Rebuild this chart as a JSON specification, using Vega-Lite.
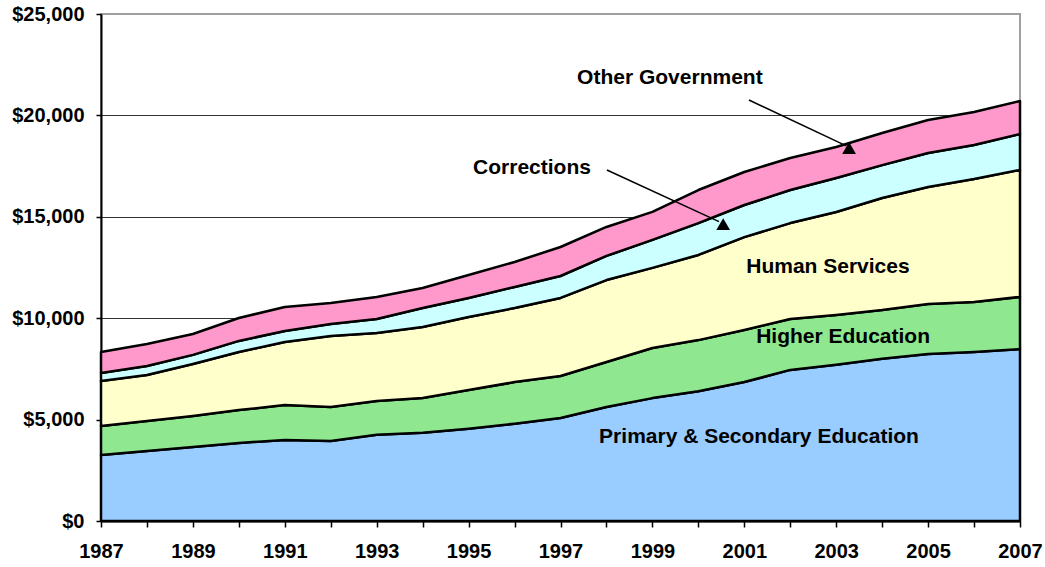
{
  "$schema": "https://vega.github.io/schema/vega-lite/v6.json",
  "width": 919,
  "height": 507,
  "autosize": "none",
  "padding": {"left": 101, "top": 14, "right": 25, "bottom": 46},
  "background": "white",
  "config": {
    "view": {"stroke": "#a0a0a0", "strokeWidth": 2},
    "font": "Liberation Sans"
  },
  "datasets": {
    "spend": [
      {"year": 1987, "series": "Primary & Secondary Education", "ord": 1, "value": 3250},
      {"year": 1988, "series": "Primary & Secondary Education", "ord": 1, "value": 3450},
      {"year": 1989, "series": "Primary & Secondary Education", "ord": 1, "value": 3650},
      {"year": 1990, "series": "Primary & Secondary Education", "ord": 1, "value": 3850},
      {"year": 1991, "series": "Primary & Secondary Education", "ord": 1, "value": 4000},
      {"year": 1992, "series": "Primary & Secondary Education", "ord": 1, "value": 3950},
      {"year": 1993, "series": "Primary & Secondary Education", "ord": 1, "value": 4250},
      {"year": 1994, "series": "Primary & Secondary Education", "ord": 1, "value": 4350},
      {"year": 1995, "series": "Primary & Secondary Education", "ord": 1, "value": 4550},
      {"year": 1996, "series": "Primary & Secondary Education", "ord": 1, "value": 4800},
      {"year": 1997, "series": "Primary & Secondary Education", "ord": 1, "value": 5080},
      {"year": 1998, "series": "Primary & Secondary Education", "ord": 1, "value": 5620},
      {"year": 1999, "series": "Primary & Secondary Education", "ord": 1, "value": 6060},
      {"year": 2000, "series": "Primary & Secondary Education", "ord": 1, "value": 6400},
      {"year": 2001, "series": "Primary & Secondary Education", "ord": 1, "value": 6850},
      {"year": 2002, "series": "Primary & Secondary Education", "ord": 1, "value": 7450},
      {"year": 2003, "series": "Primary & Secondary Education", "ord": 1, "value": 7700},
      {"year": 2004, "series": "Primary & Secondary Education", "ord": 1, "value": 8000},
      {"year": 2005, "series": "Primary & Secondary Education", "ord": 1, "value": 8230},
      {"year": 2006, "series": "Primary & Secondary Education", "ord": 1, "value": 8330},
      {"year": 2007, "series": "Primary & Secondary Education", "ord": 1, "value": 8480},

      {"year": 1987, "series": "Higher Education", "ord": 2, "value": 1430},
      {"year": 1988, "series": "Higher Education", "ord": 2, "value": 1480},
      {"year": 1989, "series": "Higher Education", "ord": 2, "value": 1530},
      {"year": 1990, "series": "Higher Education", "ord": 2, "value": 1620},
      {"year": 1991, "series": "Higher Education", "ord": 2, "value": 1720},
      {"year": 1992, "series": "Higher Education", "ord": 2, "value": 1670},
      {"year": 1993, "series": "Higher Education", "ord": 2, "value": 1670},
      {"year": 1994, "series": "Higher Education", "ord": 2, "value": 1710},
      {"year": 1995, "series": "Higher Education", "ord": 2, "value": 1910},
      {"year": 1996, "series": "Higher Education", "ord": 2, "value": 2050},
      {"year": 1997, "series": "Higher Education", "ord": 2, "value": 2070},
      {"year": 1998, "series": "Higher Education", "ord": 2, "value": 2220},
      {"year": 1999, "series": "Higher Education", "ord": 2, "value": 2470},
      {"year": 2000, "series": "Higher Education", "ord": 2, "value": 2520},
      {"year": 2001, "series": "Higher Education", "ord": 2, "value": 2570},
      {"year": 2002, "series": "Higher Education", "ord": 2, "value": 2510},
      {"year": 2003, "series": "Higher Education", "ord": 2, "value": 2460},
      {"year": 2004, "series": "Higher Education", "ord": 2, "value": 2400},
      {"year": 2005, "series": "Higher Education", "ord": 2, "value": 2470},
      {"year": 2006, "series": "Higher Education", "ord": 2, "value": 2470},
      {"year": 2007, "series": "Higher Education", "ord": 2, "value": 2570},

      {"year": 1987, "series": "Human Services", "ord": 3, "value": 2220},
      {"year": 1988, "series": "Human Services", "ord": 3, "value": 2270},
      {"year": 1989, "series": "Human Services", "ord": 3, "value": 2560},
      {"year": 1990, "series": "Human Services", "ord": 3, "value": 2860},
      {"year": 1991, "series": "Human Services", "ord": 3, "value": 3110},
      {"year": 1992, "series": "Human Services", "ord": 3, "value": 3500},
      {"year": 1993, "series": "Human Services", "ord": 3, "value": 3350},
      {"year": 1994, "series": "Human Services", "ord": 3, "value": 3510},
      {"year": 1995, "series": "Human Services", "ord": 3, "value": 3600},
      {"year": 1996, "series": "Human Services", "ord": 3, "value": 3650},
      {"year": 1997, "series": "Human Services", "ord": 3, "value": 3850},
      {"year": 1998, "series": "Human Services", "ord": 3, "value": 4040},
      {"year": 1999, "series": "Human Services", "ord": 3, "value": 3950},
      {"year": 2000, "series": "Human Services", "ord": 3, "value": 4200},
      {"year": 2001, "series": "Human Services", "ord": 3, "value": 4580},
      {"year": 2002, "series": "Human Services", "ord": 3, "value": 4730},
      {"year": 2003, "series": "Human Services", "ord": 3, "value": 5080},
      {"year": 2004, "series": "Human Services", "ord": 3, "value": 5530},
      {"year": 2005, "series": "Human Services", "ord": 3, "value": 5770},
      {"year": 2006, "series": "Human Services", "ord": 3, "value": 6060},
      {"year": 2007, "series": "Human Services", "ord": 3, "value": 6260},

      {"year": 1987, "series": "Corrections", "ord": 4, "value": 400},
      {"year": 1988, "series": "Corrections", "ord": 4, "value": 440},
      {"year": 1989, "series": "Corrections", "ord": 4, "value": 450},
      {"year": 1990, "series": "Corrections", "ord": 4, "value": 550},
      {"year": 1991, "series": "Corrections", "ord": 4, "value": 540},
      {"year": 1992, "series": "Corrections", "ord": 4, "value": 590},
      {"year": 1993, "series": "Corrections", "ord": 4, "value": 690},
      {"year": 1994, "series": "Corrections", "ord": 4, "value": 930},
      {"year": 1995, "series": "Corrections", "ord": 4, "value": 940},
      {"year": 1996, "series": "Corrections", "ord": 4, "value": 1040},
      {"year": 1997, "series": "Corrections", "ord": 4, "value": 1080},
      {"year": 1998, "series": "Corrections", "ord": 4, "value": 1190},
      {"year": 1999, "series": "Corrections", "ord": 4, "value": 1380},
      {"year": 2000, "series": "Corrections", "ord": 4, "value": 1570},
      {"year": 2001, "series": "Corrections", "ord": 4, "value": 1580},
      {"year": 2002, "series": "Corrections", "ord": 4, "value": 1630},
      {"year": 2003, "series": "Corrections", "ord": 4, "value": 1670},
      {"year": 2004, "series": "Corrections", "ord": 4, "value": 1620},
      {"year": 2005, "series": "Corrections", "ord": 4, "value": 1680},
      {"year": 2006, "series": "Corrections", "ord": 4, "value": 1680},
      {"year": 2007, "series": "Corrections", "ord": 4, "value": 1770},

      {"year": 1987, "series": "Other Government", "ord": 5, "value": 1030},
      {"year": 1988, "series": "Other Government", "ord": 5, "value": 1090},
      {"year": 1989, "series": "Other Government", "ord": 5, "value": 1030},
      {"year": 1990, "series": "Other Government", "ord": 5, "value": 1130},
      {"year": 1991, "series": "Other Government", "ord": 5, "value": 1180},
      {"year": 1992, "series": "Other Government", "ord": 5, "value": 1040},
      {"year": 1993, "series": "Other Government", "ord": 5, "value": 1090},
      {"year": 1994, "series": "Other Government", "ord": 5, "value": 990},
      {"year": 1995, "series": "Other Government", "ord": 5, "value": 1130},
      {"year": 1996, "series": "Other Government", "ord": 5, "value": 1230},
      {"year": 1997, "series": "Other Government", "ord": 5, "value": 1430},
      {"year": 1998, "series": "Other Government", "ord": 5, "value": 1430},
      {"year": 1999, "series": "Other Government", "ord": 5, "value": 1380},
      {"year": 2000, "series": "Other Government", "ord": 5, "value": 1630},
      {"year": 2001, "series": "Other Government", "ord": 5, "value": 1630},
      {"year": 2002, "series": "Other Government", "ord": 5, "value": 1580},
      {"year": 2003, "series": "Other Government", "ord": 5, "value": 1530},
      {"year": 2004, "series": "Other Government", "ord": 5, "value": 1580},
      {"year": 2005, "series": "Other Government", "ord": 5, "value": 1620},
      {"year": 2006, "series": "Other Government", "ord": 5, "value": 1630},
      {"year": 2007, "series": "Other Government", "ord": 5, "value": 1630}
    ],
    "labels": [
      {"lx": 1999.38, "ly": 21850, "text": "Other Government"},
      {"lx": 1996.38, "ly": 17410, "text": "Corrections"},
      {"lx": 2002.82, "ly": 12520, "text": "Human Services"},
      {"lx": 2003.15, "ly": 9070, "text": "Higher Education"},
      {"lx": 2001.32, "ly": 4140, "text": "Primary & Secondary Education"}
    ],
    "arrows": [
      {"ax": 2001.10, "ay": 20760, "bx": 2003.22, "by": 18500},
      {"ax": 1998.01, "ay": 17310, "bx": 2000.45, "by": 14760}
    ],
    "heads": [
      {"hx": 2003.28, "hy": 18390},
      {"hx": 2000.54, "hy": 14640}
    ]
  },
  "layer": [
    {
      "data": {"name": "spend"},
      "mark": {"type": "area", "stroke": "#000000", "strokeWidth": 2.5, "strokeJoin": "round", "opacity": 1, "fillOpacity": 1},
      "encoding": {
        "x": {
          "field": "year", "type": "quantitative",
          "scale": {"domain": [1987, 2007], "nice": false, "zero": false},
          "axis": {
            "title": null,
            "values": [1987,1988,1989,1990,1991,1992,1993,1994,1995,1996,1997,1998,1999,2000,2001,2002,2003,2004,2005,2006,2007],
            "format": "d",
            "labelExpr": "datum.value % 2 == 1 ? datum.label : ''",
            "labelOverlap": false,
            "labelFlush": false,
            "grid": false,
            "domainColor": "#000000",
            "domainWidth": 2,
            "tickColor": "#000000",
            "tickWidth": 1.5,
            "tickSize": 6,
            "labelFont": "Liberation Sans",
            "labelFontWeight": "bold",
            "labelFontSize": 20,
            "labelColor": "#000000",
            "labelPadding": 14
          }
        },
        "y": {
          "field": "value", "type": "quantitative", "stack": "zero",
          "scale": {"domain": [0, 25000], "nice": false},
          "axis": {
            "title": null,
            "values": [0, 5000, 10000, 15000, 20000, 25000],
            "format": "$,.0f",
            "grid": true,
            "gridColor": {"condition": {"test": "datum.value >= 25000 || datum.value <= 0", "value": "#a0a0a0"}, "value": "#333333"},
            "gridWidth": 1,
            "domainColor": "#000000",
            "domainWidth": 2,
            "tickColor": "#000000",
            "tickWidth": 1.5,
            "tickSize": 5,
            "labelFont": "Liberation Sans",
            "labelFontWeight": "bold",
            "labelFontSize": 20,
            "labelColor": "#000000",
            "labelPadding": 12
          }
        },
        "color": {
          "field": "series", "type": "nominal", "legend": null,
          "scale": {
            "domain": ["Primary & Secondary Education", "Higher Education", "Human Services", "Corrections", "Other Government"],
            "range": ["#99ccff", "#8fe88f", "#ffffcc", "#ccffff", "#ff99cc"]
          }
        },
        "order": {"field": "ord", "type": "quantitative", "sort": "ascending"}
      }
    },
    {
      "data": {"name": "arrows"},
      "mark": {"type": "rule", "color": "#000000", "strokeWidth": 1.5},
      "encoding": {
        "x": {"field": "ax", "type": "quantitative"},
        "y": {"field": "ay", "type": "quantitative"},
        "x2": {"field": "bx"},
        "y2": {"field": "by"}
      }
    },
    {
      "data": {"name": "heads"},
      "mark": {"type": "point", "shape": "triangle-up", "filled": true, "color": "#000000", "size": 190, "opacity": 1},
      "encoding": {
        "x": {"field": "hx", "type": "quantitative"},
        "y": {"field": "hy", "type": "quantitative"}
      }
    },
    {
      "data": {"name": "labels"},
      "mark": {"type": "text", "font": "Liberation Sans", "fontWeight": "bold", "fontSize": 21, "color": "#000000", "align": "center", "baseline": "middle"},
      "encoding": {
        "x": {"field": "lx", "type": "quantitative"},
        "y": {"field": "ly", "type": "quantitative"},
        "text": {"field": "text"}
      }
    }
  ]
}
